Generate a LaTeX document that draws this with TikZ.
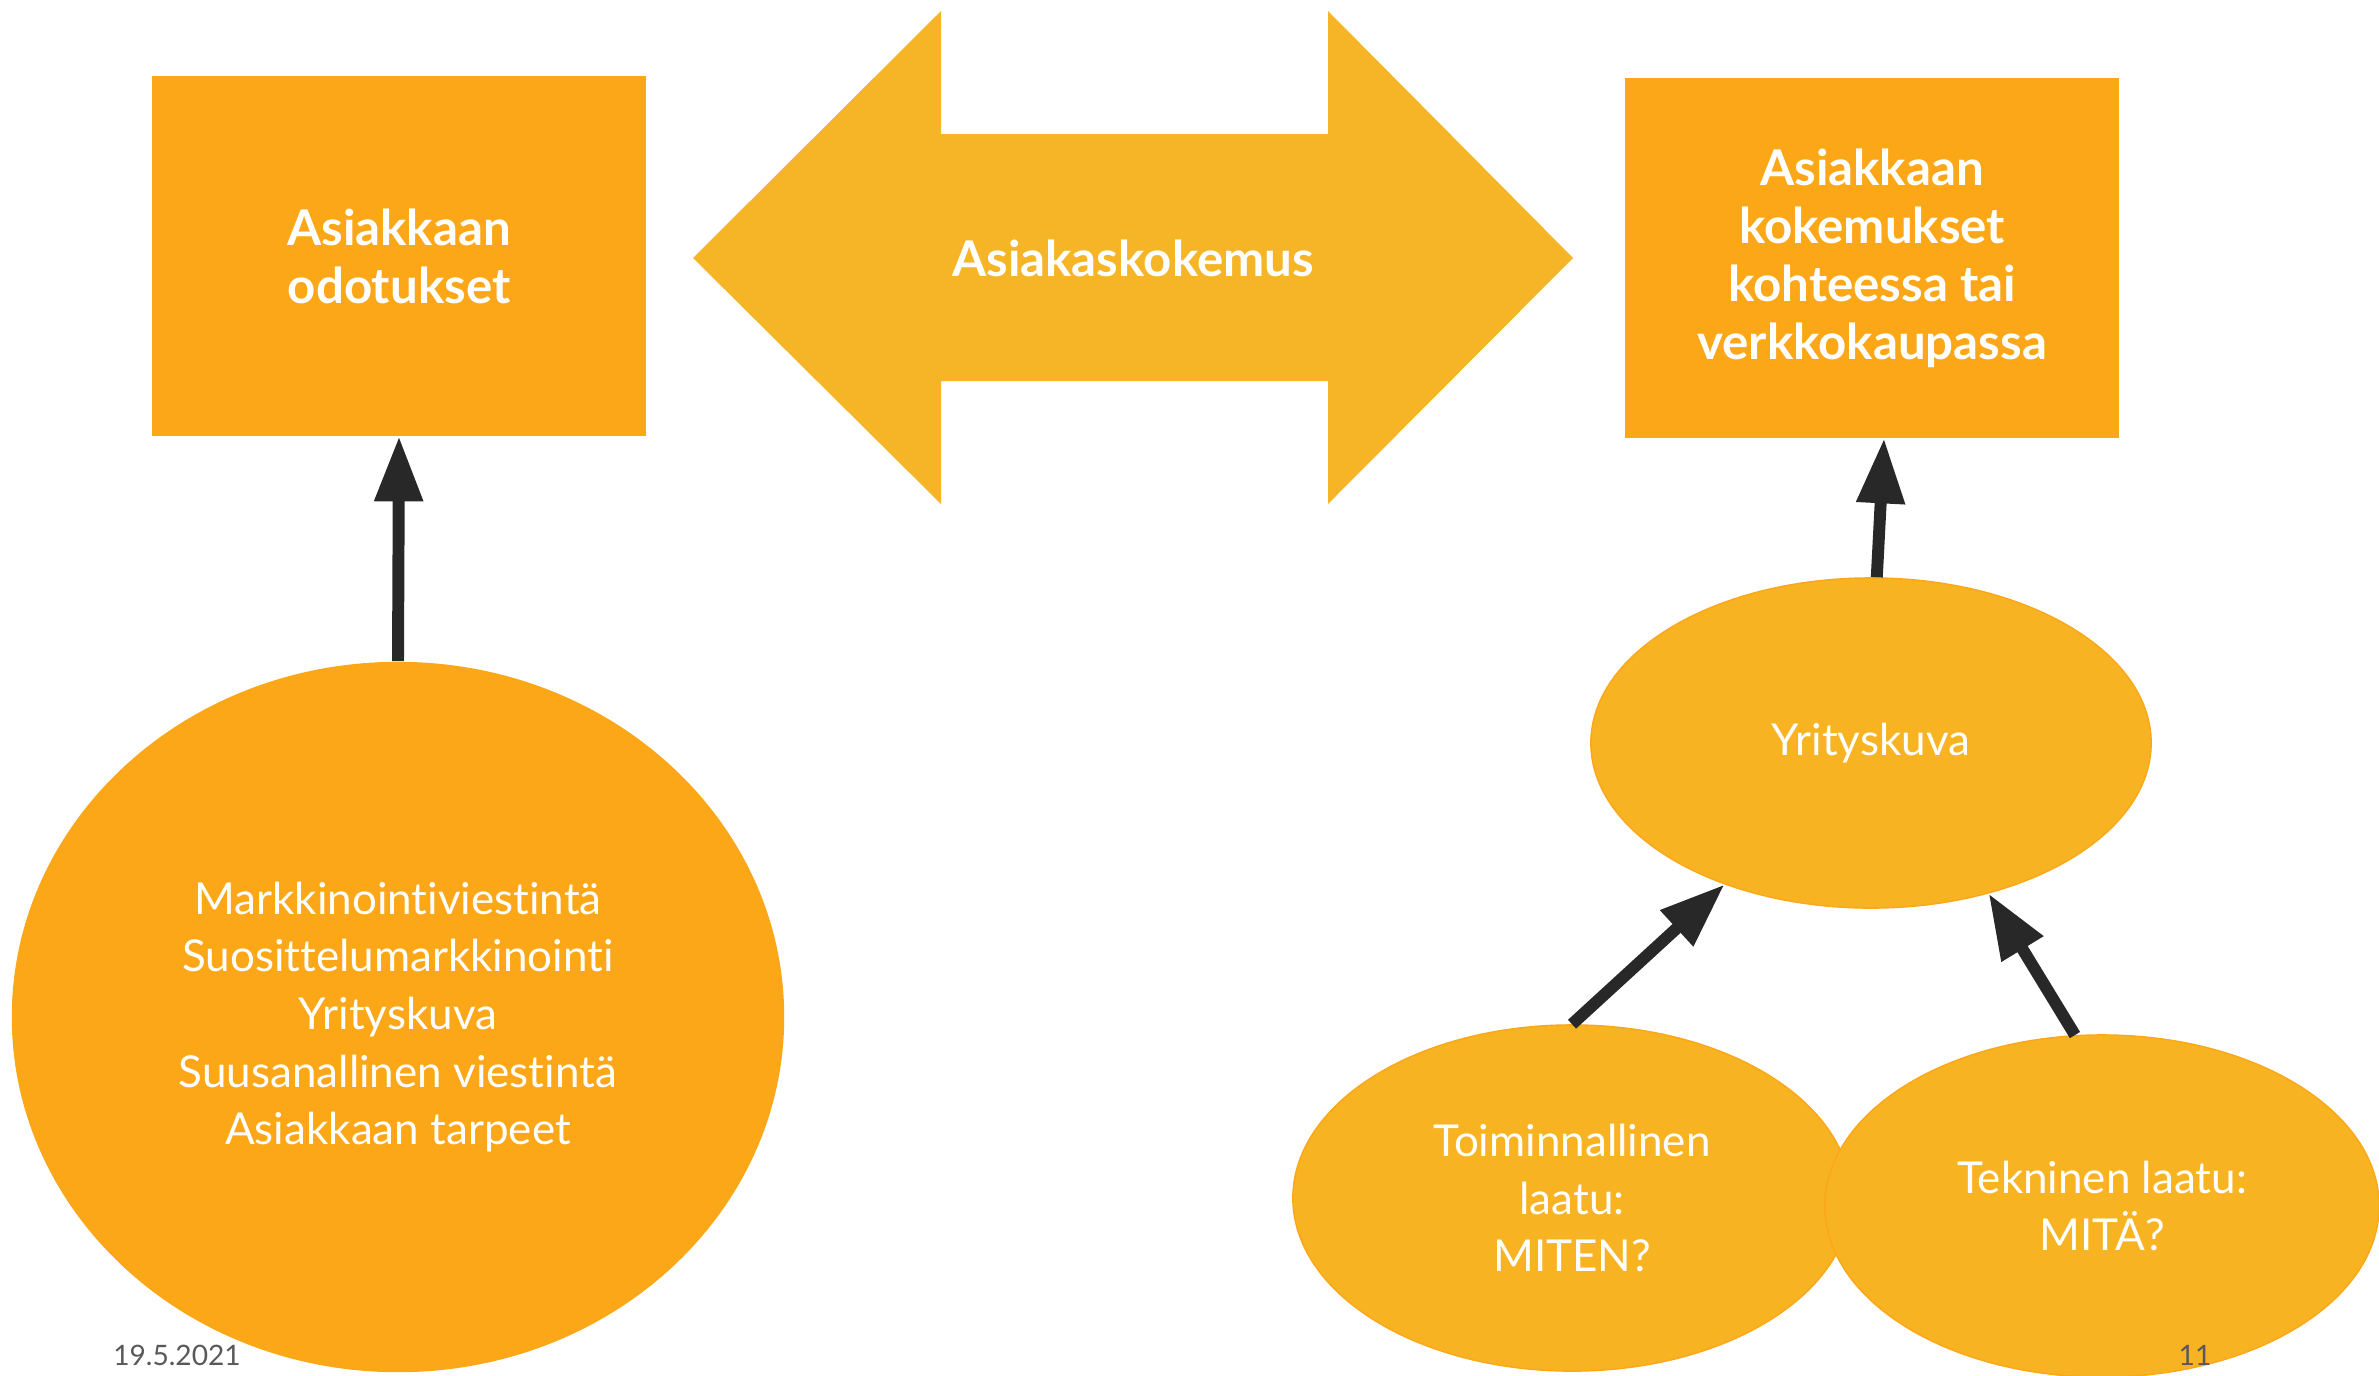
\documentclass[tikz,border=0pt]{standalone}
\usepackage{fontspec}
\setmainfont{Lato}[RawFeature=-liga]
\usepackage{tikz}
\usetikzlibrary{arrows.meta,shapes.geometric}
\definecolor{boxorange}{HTML}{FCA717}
\definecolor{lightorange}{HTML}{F8B323}
\definecolor{arroworange}{HTML}{F6B427}
\definecolor{darkarrow}{HTML}{282828}
\definecolor{footgray}{HTML}{595959}

\begin{document}
\begin{tikzpicture}[x=0.01cm,y=-0.01cm]
		\useasboundingbox (0,0) rectangle (2379,1375);

		% kaksisuuntainen nuoli
		\fill[arroworange] (693,258) -- (941,11) -- (941,134) -- (1328,134) -- (1328,11)
		      -- (1573,258) -- (1328,504) -- (1328,381) -- (941,381) -- (941,504) -- cycle;
		\node[text=white,font=\bfseries\fontsize{14}{16.5}\selectfont] (kokemus) at (1133,258) {Asiakaskokemus};

		\begin{scope}[every node/.style={rectangle,fill=boxorange,text=white,align=center,
		              font=\bfseries\fontsize{14}{16.5}\selectfont,
		              minimum width=4.94cm,minimum height=3.59cm}]
		    \node (odotukset) at (399,256) {Asiakkaan\\odotukset};
		    \node (kokemukset) at (1872,258) {Asiakkaan\\kokemukset\\kohteessa tai\\verkkokaupassa};
		\end{scope}

		\begin{scope}[every node/.style={ellipse,text=white,align=center,inner sep=0pt,
		              font=\fontsize{12.5}{16.4}\selectfont}]
		    \node[fill=boxorange,minimum width=7.72cm,minimum height=7.1cm] (tekijat) at (398,1017)
		        {Markkinointiviestintä\\Suosittelumarkkinointi\\Yrityskuva\\Suusanallinen viestintä\\Asiakkaan tarpeet};
		    \node[fill=lightorange,draw=boxorange,minimum width=5.6cm,minimum height=3.3cm] (yrityskuva) at (1871,743) {Yrityskuva};
		    \node[fill=lightorange,draw=boxorange,minimum width=5.58cm,minimum height=3.46cm] (toiminnallinen) at (1572,1198)
		        {Toiminnallinen\\laatu:\\MITEN?};
		    \node[fill=lightorange,draw=boxorange,minimum width=5.54cm,minimum height=3.42cm] (tekninen) at (2102,1206)
		        {Tekninen laatu:\\MITÄ?};
		\end{scope}

		\begin{scope}[>={Triangle[length=0.65cm,width=0.46cm]},
		              every edge/.style={draw=darkarrow,line width=3.4pt}]
		    \path (tekijat.north) edge[->] (odotukset.south);
		    \path (yrityskuva.88) edge[->] ([xshift=0.12cm]kokemukset.south);
		    \path (toiminnallinen.north) edge[->] (yrityskuva.224);
		    \path (tekninen.99) edge[->] (yrityskuva.308);
		\end{scope}

		\begin{scope}[every node/.style={text=footgray,font=\fontsize{8}{10}\selectfont}]
		    \node (datum) at (177,1355) {19.5.2021};
		    \node (sivu) at (2195,1355) {11};
		\end{scope}
\end{tikzpicture}
\end{document}
